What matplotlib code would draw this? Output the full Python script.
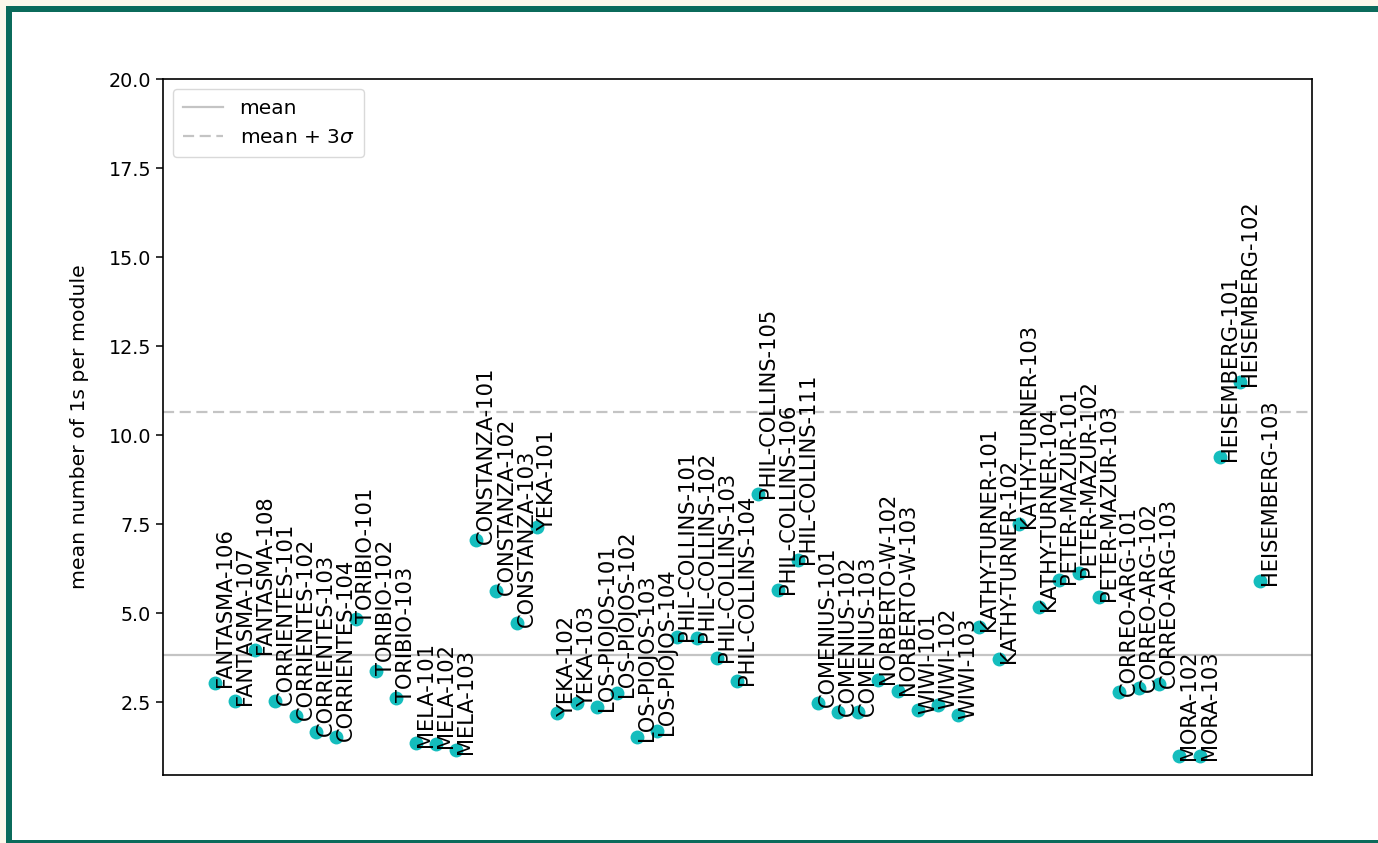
import numpy as np
import matplotlib
matplotlib.use("Agg")
import matplotlib.pyplot as plt

modules = [
    "FANTASMA-106", "FANTASMA-107", "FANTASMA-108",
    "CORRIENTES-101", "CORRIENTES-102", "CORRIENTES-103", "CORRIENTES-104",
    "TORIBIO-101", "TORIBIO-102", "TORIBIO-103",
    "MELA-101", "MELA-102", "MELA-103",
    "CONSTANZA-101", "CONSTANZA-102", "CONSTANZA-103",
    "YEKA-101", "YEKA-102", "YEKA-103",
    "LOS-PIOJOS-101", "LOS-PIOJOS-102", "LOS-PIOJOS-103", "LOS-PIOJOS-104",
    "PHIL-COLLINS-101", "PHIL-COLLINS-102", "PHIL-COLLINS-103", "PHIL-COLLINS-104",
    "PHIL-COLLINS-105", "PHIL-COLLINS-106", "PHIL-COLLINS-111",
    "COMENIUS-101", "COMENIUS-102", "COMENIUS-103",
    "NORBERTO-W-102", "NORBERTO-W-103",
    "WIWI-101", "WIWI-102", "WIWI-103",
    "KATHY-TURNER-101", "KATHY-TURNER-102", "KATHY-TURNER-103", "KATHY-TURNER-104",
    "PETER-MAZUR-101", "PETER-MAZUR-102", "PETER-MAZUR-103",
    "CORREO-ARG-101", "CORREO-ARG-102", "CORREO-ARG-103",
    "MORA-102", "MORA-103",
    "HEISEMBERG-101", "HEISEMBERG-102", "HEISEMBERG-103",
]

mean_ones = [
    3.03, 2.53, 3.96,
    2.53, 2.11, 1.66, 1.52,
    4.83, 3.37, 2.61,
    1.35, 1.32, 1.15,
    7.05, 5.62, 4.72,
    7.42, 2.19, 2.47,
    2.36, 2.75, 1.52, 1.69,
    4.33, 4.30, 3.74, 3.09,
    8.34, 5.65, 6.49,
    2.47, 2.22, 2.22,
    3.12, 2.81,
    2.28, 2.42, 2.13,
    4.61, 3.71, 7.50, 5.17,
    5.93, 6.12, 5.45,
    2.78, 2.89, 3.01,
    0.98, 0.98,
    9.38, 11.49, 5.90,
]

mean_level = 3.82
upper_level = 10.65

W, H = 1378, 843
fig = plt.figure(figsize=(W / 100, H / 100), dpi=100)
fig.patch.set_facecolor("white")

# page background: cream margin, green frame running off the right edge, white panel
bg = np.ones((H, W, 3))
cream = np.array([0xfd, 0xf8, 0xeb]) / 255
green = np.array([0x0b, 0x6b, 0x5b]) / 255
bg[:, :] = cream
bg[6:, 6:] = green
bg[12:H - 3, 12:] = 1.0
fig.figimage(bg, xo=0, yo=0, origin="upper", zorder=-10)

ax = fig.add_axes([163 / W, (H - 775) / H, (1312 - 163) / W, (775 - 79) / H])
ax.set_facecolor("white")

x = np.arange(len(mean_ones))
ax.scatter(x, mean_ones, s=100, color="#14bdbd", zorder=3, linewidths=0)
for xi, yi, name in zip(x, mean_ones, modules):
    ax.text(xi, yi, name, rotation=90, fontsize=15.1, color="black", zorder=4)

ax.axhline(mean_level, color="#c4c4c4", lw=1.6, label="mean", zorder=1)
ax.axhline(upper_level, color="#c4c4c4", lw=1.6, ls="--", dashes=(5, 2.5),
           label="mean + 3$\\sigma$", zorder=1)

ax.set_ylim(top=20)
ax.set_xticks([])
ax.set_ylabel("mean number of 1s per module", fontsize=14.7, labelpad=14)
ax.tick_params(axis="y", labelsize=13.8, length=5, width=1.1)
for sp in ax.spines.values():
    sp.set_linewidth(1.2)

leg = ax.legend(loc="upper left", fontsize=14.5, framealpha=0.8,
                handlelength=2.0, borderpad=0.5)
leg.get_frame().set_edgecolor("#d0d0d0")

fig.savefig("out.png", dpi=100)
